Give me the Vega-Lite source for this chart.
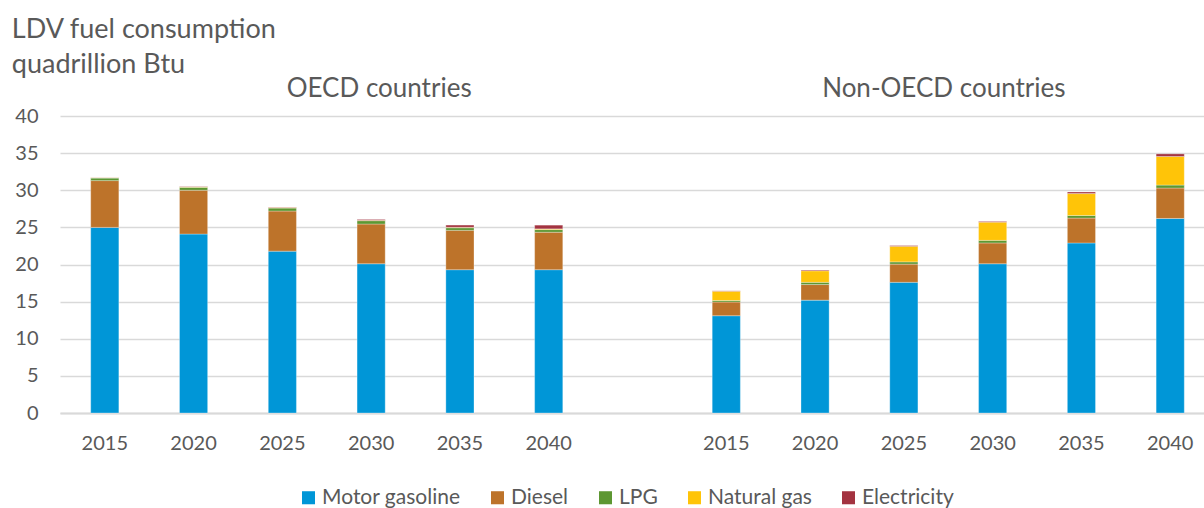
{
  "$schema": "https://vega.github.io/schema/vega-lite/v6.json",
  "autosize": {"type": "none"},
  "width": 1144,
  "height": 297,
  "padding": {"left": 60, "top": 116, "right": 0, "bottom": 95},
  "background": "white",
  "config": {
    "font": "Lato",
    "view": {"stroke": null},
    "axis": {"labelColor": "#595959", "labelFont": "Lato", "titleColor": "#595959"}
  },
  "title": {
    "text": ["LDV fuel consumption", "quadrillion Btu"],
    "anchor": "start",
    "frame": "bounds",
    "font": "Lato",
    "fontSize": 27,
    "fontWeight": "normal",
    "color": "#595959",
    "lineHeight": 35,
    "dx": -3,
    "offset": -3
  },
  "resolve": {"axis": {"y": "independent"}},
  "datasets": {
    "fuel": [
      {"cat": "OECD 2015", "fuel": "Motor gasoline", "ord": 1, "v": 25.0},
      {"cat": "OECD 2015", "fuel": "Diesel", "ord": 2, "v": 6.3},
      {"cat": "OECD 2015", "fuel": "LPG", "ord": 3, "v": 0.35},
      {"cat": "OECD 2015", "fuel": "Natural gas", "ord": 4, "v": 0.03},
      {"cat": "OECD 2015", "fuel": "Electricity", "ord": 5, "v": 0.02},
      {"cat": "OECD 2020", "fuel": "Motor gasoline", "ord": 1, "v": 24.1},
      {"cat": "OECD 2020", "fuel": "Diesel", "ord": 2, "v": 5.9},
      {"cat": "OECD 2020", "fuel": "LPG", "ord": 3, "v": 0.4},
      {"cat": "OECD 2020", "fuel": "Natural gas", "ord": 4, "v": 0.05},
      {"cat": "OECD 2020", "fuel": "Electricity", "ord": 5, "v": 0.05},
      {"cat": "OECD 2025", "fuel": "Motor gasoline", "ord": 1, "v": 21.8},
      {"cat": "OECD 2025", "fuel": "Diesel", "ord": 2, "v": 5.4},
      {"cat": "OECD 2025", "fuel": "LPG", "ord": 3, "v": 0.4},
      {"cat": "OECD 2025", "fuel": "Natural gas", "ord": 4, "v": 0.07},
      {"cat": "OECD 2025", "fuel": "Electricity", "ord": 5, "v": 0.05},
      {"cat": "OECD 2030", "fuel": "Motor gasoline", "ord": 1, "v": 20.1},
      {"cat": "OECD 2030", "fuel": "Diesel", "ord": 2, "v": 5.35},
      {"cat": "OECD 2030", "fuel": "LPG", "ord": 3, "v": 0.45},
      {"cat": "OECD 2030", "fuel": "Natural gas", "ord": 4, "v": 0.05},
      {"cat": "OECD 2030", "fuel": "Electricity", "ord": 5, "v": 0.12},
      {"cat": "OECD 2035", "fuel": "Motor gasoline", "ord": 1, "v": 19.3},
      {"cat": "OECD 2035", "fuel": "Diesel", "ord": 2, "v": 5.3},
      {"cat": "OECD 2035", "fuel": "LPG", "ord": 3, "v": 0.35},
      {"cat": "OECD 2035", "fuel": "Natural gas", "ord": 4, "v": 0.06},
      {"cat": "OECD 2035", "fuel": "Electricity", "ord": 5, "v": 0.3},
      {"cat": "OECD 2040", "fuel": "Motor gasoline", "ord": 1, "v": 19.3},
      {"cat": "OECD 2040", "fuel": "Diesel", "ord": 2, "v": 5.05},
      {"cat": "OECD 2040", "fuel": "LPG", "ord": 3, "v": 0.35},
      {"cat": "OECD 2040", "fuel": "Natural gas", "ord": 4, "v": 0.1},
      {"cat": "OECD 2040", "fuel": "Electricity", "ord": 5, "v": 0.5},
      {"cat": "Non-OECD 2015", "fuel": "Motor gasoline", "ord": 1, "v": 13.1},
      {"cat": "Non-OECD 2015", "fuel": "Diesel", "ord": 2, "v": 1.85},
      {"cat": "Non-OECD 2015", "fuel": "LPG", "ord": 3, "v": 0.2},
      {"cat": "Non-OECD 2015", "fuel": "Natural gas", "ord": 4, "v": 1.25},
      {"cat": "Non-OECD 2015", "fuel": "Electricity", "ord": 5, "v": 0.05},
      {"cat": "Non-OECD 2020", "fuel": "Motor gasoline", "ord": 1, "v": 15.2},
      {"cat": "Non-OECD 2020", "fuel": "Diesel", "ord": 2, "v": 2.1},
      {"cat": "Non-OECD 2020", "fuel": "LPG", "ord": 3, "v": 0.3},
      {"cat": "Non-OECD 2020", "fuel": "Natural gas", "ord": 4, "v": 1.55},
      {"cat": "Non-OECD 2020", "fuel": "Electricity", "ord": 5, "v": 0.1},
      {"cat": "Non-OECD 2025", "fuel": "Motor gasoline", "ord": 1, "v": 17.6},
      {"cat": "Non-OECD 2025", "fuel": "Diesel", "ord": 2, "v": 2.45},
      {"cat": "Non-OECD 2025", "fuel": "LPG", "ord": 3, "v": 0.3},
      {"cat": "Non-OECD 2025", "fuel": "Natural gas", "ord": 4, "v": 2.1},
      {"cat": "Non-OECD 2025", "fuel": "Electricity", "ord": 5, "v": 0.1},
      {"cat": "Non-OECD 2030", "fuel": "Motor gasoline", "ord": 1, "v": 20.1},
      {"cat": "Non-OECD 2030", "fuel": "Diesel", "ord": 2, "v": 2.8},
      {"cat": "Non-OECD 2030", "fuel": "LPG", "ord": 3, "v": 0.35},
      {"cat": "Non-OECD 2030", "fuel": "Natural gas", "ord": 4, "v": 2.45},
      {"cat": "Non-OECD 2030", "fuel": "Electricity", "ord": 5, "v": 0.1},
      {"cat": "Non-OECD 2035", "fuel": "Motor gasoline", "ord": 1, "v": 22.9},
      {"cat": "Non-OECD 2035", "fuel": "Diesel", "ord": 2, "v": 3.35},
      {"cat": "Non-OECD 2035", "fuel": "LPG", "ord": 3, "v": 0.35},
      {"cat": "Non-OECD 2035", "fuel": "Natural gas", "ord": 4, "v": 2.95},
      {"cat": "Non-OECD 2035", "fuel": "Electricity", "ord": 5, "v": 0.22},
      {"cat": "Non-OECD 2040", "fuel": "Motor gasoline", "ord": 1, "v": 26.2},
      {"cat": "Non-OECD 2040", "fuel": "Diesel", "ord": 2, "v": 4.1},
      {"cat": "Non-OECD 2040", "fuel": "LPG", "ord": 3, "v": 0.4},
      {"cat": "Non-OECD 2040", "fuel": "Natural gas", "ord": 4, "v": 3.85},
      {"cat": "Non-OECD 2040", "fuel": "Electricity", "ord": 5, "v": 0.35}
    ]
  },
  "encoding": {
    "x": {
      "field": "cat",
      "type": "nominal",
      "sort": null,
      "scale": {
        "domain": ["OECD 2015", "OECD 2020", "OECD 2025", "OECD 2030", "OECD 2035", "OECD 2040", "gap", "Non-OECD 2015", "Non-OECD 2020", "Non-OECD 2025", "Non-OECD 2030", "Non-OECD 2035", "Non-OECD 2040"],
        "paddingInner": 0.683,
        "paddingOuter": 0.284,
        "align": 0.609
      },
      "axis": {
        "title": null,
        "labelExpr": "datum.label == 'gap' ? '' : split(datum.label, ' ')[1]",
        "labelAngle": 0,
        "labelFontSize": 20,
        "labelPadding": 20,
        "ticks": false,
        "domainColor": "#d9d9d9",
        "domainWidth": 2,
        "grid": false
      }
    }
  },
  "layer": [
    {
      "data": {"name": "fuel"},
      "mark": {"type": "bar", "stroke": "white", "strokeWidth": 0.6, "strokeOpacity": 0.5},
      "encoding": {
        "y": {
          "field": "v",
          "type": "quantitative",
          "stack": "zero",
          "scale": {"domain": [0, 40], "nice": false},
          "axis": {
            "title": null,
            "values": [0, 5, 10, 15, 20, 25, 30, 35, 40],
            "labelOverlap": false,
            "labelFontSize": 20,
            "labelPadding": 22,
            "ticks": false,
            "domain": false,
            "gridColor": "#d9d9d9",
            "gridWidth": 1.5
          }
        },
        "color": {
          "field": "fuel",
          "type": "nominal",
          "scale": {
            "domain": ["Motor gasoline", "Diesel", "LPG", "Natural gas", "Electricity"],
            "range": ["#0096D7", "#BD732A", "#5D9732", "#FFC408", "#A33340"]
          },
          "legend": {
            "title": null,
            "orient": "none",
            "legendX": 238,
            "legendY": 371,
            "direction": "horizontal",
            "symbolType": "square",
            "symbolSize": 170,
            "symbolStrokeWidth": 0,
            "labelFontSize": 21,
            "labelColor": "#595959",
            "labelFont": "Lato",
            "labelOffset": 3,
            "columnPadding": 26,
            "labelLimit": 300
          }
        },
        "order": {"field": "ord", "type": "quantitative"}
      }
    },
    {
      "data": {"values": [{"cat": "OECD 2030", "label": "OECD countries"}]},
      "mark": {"type": "text", "fontSize": 26, "color": "#595959", "baseline": "alphabetic", "align": "center", "dy": -19, "dx": 8},
      "encoding": {
        "y": {"datum": 40, "axis": null},
        "text": {"field": "label"}
      }
    },
    {
      "data": {"values": [{"cat": "Non-OECD 2025", "label": "Non-OECD countries"}]},
      "mark": {"type": "text", "fontSize": 26, "color": "#595959", "baseline": "alphabetic", "align": "center", "dy": -19, "dx": 40},
      "encoding": {
        "y": {"datum": 40, "axis": null},
        "text": {"field": "label"}
      }
    }
  ]
}
